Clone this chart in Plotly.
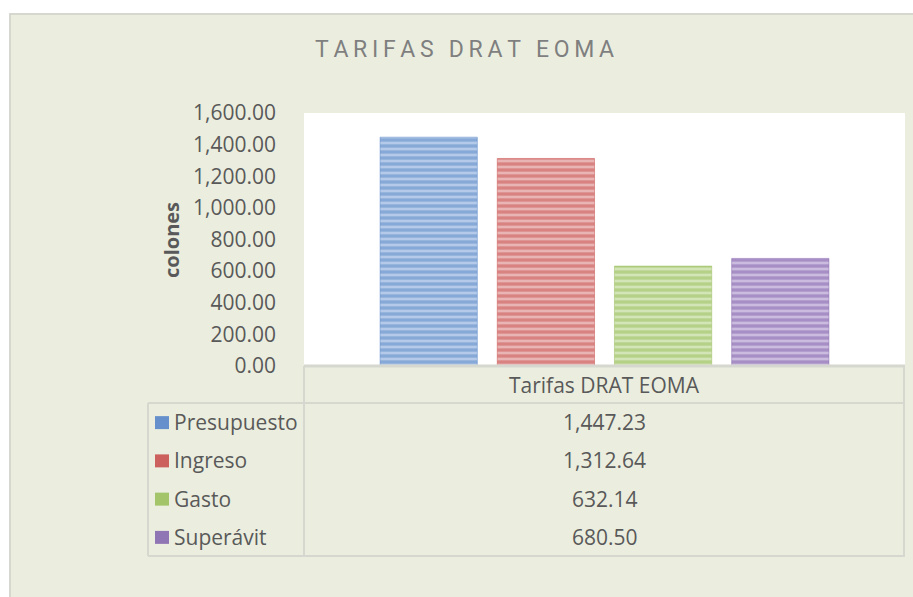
import plotly.graph_objects as go

categories = ["Tarifas DRAT EOMA"]
series_names = ["Presupuesto", "Ingreso", "Gasto", "Superávit"]
series_values = [1447.23, 1312.64, 632.14, 680.50]
y_ticks = [0, 200, 400, 600, 800, 1000, 1200, 1400, 1600]
title_text = "TARIFAS DRAT EOMA"
y_title = "colones"

dark_colors = ["#5A87C6", "#C7504D", "#98BD58", "#8464AC"]
light_colors = ["#B4CAE8", "#E9B5B4", "#D3E4B6", "#CABBDF"]
key_colors = ["#6590CC", "#CB605D", "#A3C469", "#9075B5"]

W, H = 913, 597
BG = "#EBEEDF"
GRID = "#D6D8D0"
TXT = "#595959"
FONT = "Open Sans"
FS = 21

def px(x):
    return x / W

def py(y):
    return 1 - y / H

fig = go.Figure()
for name, val, dc, lc in zip(series_names, series_values, dark_colors, light_colors):
    fig.add_trace(go.Bar(
        x=categories, y=[val], name=name,
        marker=dict(color=lc, line=dict(color=dc, width=0.5),
                    pattern=dict(shape="-", fgcolor=dc, bgcolor=lc, size=6, solidity=0.55, fillmode="overlay")),
        showlegend=False,
    ))

plot_l, plot_r, plot_t, plot_b = 304, 905, 113, 366
shapes = []
# chart background
shapes.append(dict(type="rect", xref="paper", yref="paper", x0=px(10), x1=px(W + 5), y0=py(14), y1=py(H + 5),
                   fillcolor=BG, line=dict(color=GRID, width=2), layer="below"))
# plot area background
shapes.append(dict(type="rect", xref="paper", yref="paper", x0=px(plot_l), x1=px(plot_r), y0=py(plot_b), y1=py(plot_t),
                   fillcolor="white", line=dict(width=0), layer="below"))

# data table lines
tbl_l, tbl_hdr_top, tbl_hdr_bot, tbl_bot = 148, 366, 403, 556
def hline(y, x0, x1, w=2):
    shapes.append(dict(type="line", xref="paper", yref="paper", x0=px(x0), x1=px(x1), y0=py(y), y1=py(y),
                       line=dict(color=GRID, width=w)))
def vline(x, y0, y1, w=2):
    shapes.append(dict(type="line", xref="paper", yref="paper", x0=px(x), x1=px(x), y0=py(y0), y1=py(y1),
                       line=dict(color=GRID, width=w)))
hline(tbl_hdr_top, plot_l, plot_r, 3)
hline(tbl_hdr_bot, tbl_l, plot_r)
hline(tbl_bot, tbl_l, plot_r)
vline(tbl_l, tbl_hdr_bot, tbl_bot)
vline(plot_l, tbl_hdr_top, tbl_bot)
vline(plot_r - 1, tbl_hdr_top, tbl_bot)

annotations = []
row_h = (tbl_bot - tbl_hdr_bot) / len(series_names)
val_x = (plot_l + plot_r) / 2
annotations.append(dict(text=categories[0], x=px(val_x), y=py((tbl_hdr_top + tbl_hdr_bot) / 2), xref="paper", yref="paper",
                        showarrow=False, font=dict(family=FONT, size=FS, color=TXT), xanchor="center", yanchor="middle"))
for i, (name, val, kc) in enumerate(zip(series_names, series_values, key_colors)):
    cy = tbl_hdr_bot + row_h * (i + 0.5)
    shapes.append(dict(type="rect", xref="paper", yref="paper", x0=px(155), x1=px(169), y0=py(cy - 6), y1=py(cy + 7),
                       fillcolor=kc, line=dict(width=0)))
    annotations.append(dict(text=name, x=px(172), y=py(cy), xref="paper", yref="paper", showarrow=False,
                            font=dict(family=FONT, size=FS, color=TXT), xanchor="left", yanchor="middle"))
    annotations.append(dict(text=f"{val:,.2f}", x=px(val_x), y=py(cy), xref="paper", yref="paper", showarrow=False,
                            font=dict(family=FONT, size=FS, color=TXT), xanchor="center", yanchor="middle"))

# title
annotations.append(dict(text="\u2009".join(title_text), x=px(465), y=py(50), xref="paper", yref="paper", showarrow=False,
                        font=dict(family="Roboto", size=23, color="#7F7F7F"), xanchor="center", yanchor="middle"))
# y-axis title
annotations.append(dict(text="<b>" + y_title + "</b>", x=px(172), y=py(240), xref="paper", yref="paper", showarrow=False,
                        textangle=-90, font=dict(family=FONT, size=20, color=TXT), xanchor="center", yanchor="middle"))

fig.update_layout(
    width=W, height=H, autosize=False,
    margin=dict(l=0, r=0, t=0, b=0, pad=0, autoexpand=False),
    paper_bgcolor="white", plot_bgcolor="rgba(0,0,0,0)",
    barmode="group", bargap=0.22, bargroupgap=0.17,
    shapes=shapes, annotations=annotations,
    xaxis=dict(domain=[px(plot_l), px(plot_r)], showticklabels=False, showgrid=False, zeroline=False,
               showline=False, ticks="", automargin=False),
    yaxis=dict(domain=[py(plot_b), py(plot_t)], range=[0, 1600], tickvals=y_ticks, tickformat=",.2f",
               showgrid=False, zeroline=False, showline=False, ticks="", ticklabelstandoff=27, automargin=False,
               tickfont=dict(family=FONT, size=FS, color=TXT)),
)

fig.write_html("out.html", config={"displayModeBar": False},
               post_script="document.body.style.margin='0';document.body.style.overflow='hidden';")
